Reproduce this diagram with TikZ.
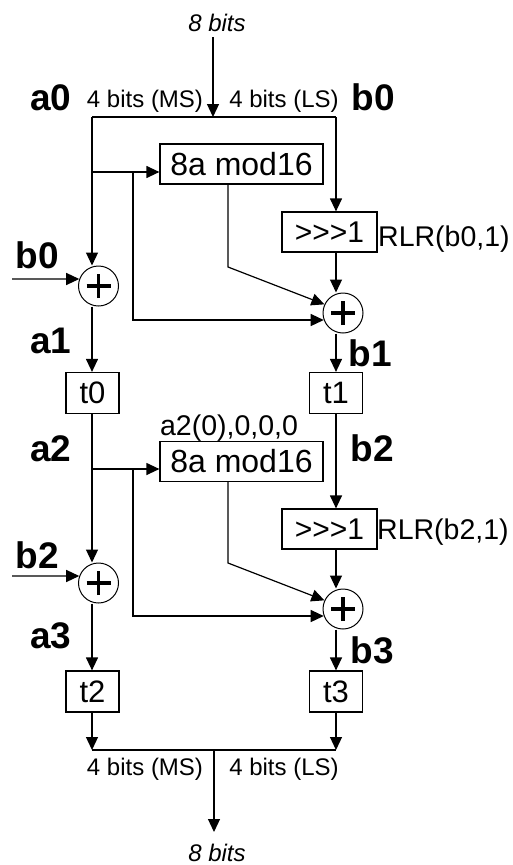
\documentclass[tikz,border=0pt]{standalone}
\usepackage{fontspec}
\setmainfont{Liberation Sans}
\usetikzlibrary{arrows.meta,calc}
\begin{document}
\begin{tikzpicture}[x=1pt,y=-1pt,
  arr/.style={line width=1.2pt,-{Triangle[length=13pt,width=12pt]}},
  wire/.style={line width=1.2pt},
  box/.style={draw,line width=1.2pt,inner sep=0pt,font=\fontsize{32}{36}\selectfont},
  shbox/.style={box,minimum width=95pt,minimum height=40pt,font=\fontsize{30}{34}\selectfont},
  modbox/.style={box,minimum width=163pt,minimum height=40pt},
  tbox/.style={box,minimum width=53pt,minimum height=41pt,font=\fontsize{31}{35}\selectfont},
  pl/.style={draw,circle,line width=1pt,minimum size=40pt,inner sep=0pt,
    path picture={\draw[line width=3.5pt]
      ([xshift=-12pt]path picture bounding box.center) -- ([xshift=12pt]path picture bounding box.center)
      ([yshift=-12pt]path picture bounding box.center) -- ([yshift=12pt]path picture bounding box.center);}},
  big/.style={font=\bfseries\fontsize{37}{40}\selectfont,anchor=base,inner sep=0pt},
  small/.style={font=\fontsize{24}{28}\selectfont,anchor=base,inner sep=0pt},
  ital/.style={font=\itshape\fontsize{24}{28}\selectfont,anchor=base,inner sep=0pt},
  mid/.style={font=\fontsize{28.5}{32}\selectfont,anchor=base,inner sep=0pt}
]
\useasboundingbox[fill=white] (0,0) rectangle (512,865);

% operator nodes
\node[pl] (p1) at (98.5,286) {};
\node[pl] (p2) at (343,313) {};
\node[pl] (p3) at (98.5,583) {};
\node[pl] (p4) at (343,609) {};
\node[modbox] (m1) at (241.5,164) {8a mod16};
\node[modbox] (m2) at (241.5,461.5) {8a mod16};
\node[shbox] (s1) at (329.5,232) {>{}>{}>1};
\node[shbox] (s2) at (329.5,529) {>{}>{}>1};
\node[tbox] (t0) at (92.5,393) {t0};
\node[tbox] (t1) at (336,393) {t1};
\node[tbox] (t2) at (92.5,691.5) {t2};
\node[tbox] (t3) at (336,691.5) {t3};

% labels
\node[ital] (bits1) at (217,31) {8 bits};
\node[small] (ms1) at (145,107) {4 bits (MS)};
\node[small] (ls1) at (284,107) {4 bits (LS)};
\node[big] (la0) at (51,110) {a0};
\node[big] (lb0) at (373,110) {b0};
\node[big] (lb0l) at (37,268) {b0};
\node[big] (la1) at (51,353) {a1};
\node[big] (lb1) at (370,366.5) {b1};
\node[mid,anchor=base west] (r1) at (378,246.5) {RLR(b0,1)};
\node[mid] (a2z) at (229,435) {a2(0),0,0,0};
\node[big] (la2) at (51,461.5) {a2};
\node[big] (lb2) at (372,461.5) {b2};
\node[mid,anchor=base west] (r2) at (377,539) {RLR(b2,1)};
\node[big] (lb2l) at (37,568) {b2};
\node[big] (la3) at (51,648) {a3};
\node[big] (lb3) at (372,663) {b3};
\node[small] (ms2) at (145,775) {4 bits (MS)};
\node[small] (ls2) at (284,775) {4 bits (LS)};
\node[ital] (bits2) at (217,861) {8 bits};

% coordinates
\coordinate (in) at (213,37);
\coordinate (sp) at (213,117);
\coordinate (al) at (92,117);
\coordinate (bl) at (336,117);
\coordinate (f1) at (92,172);
\coordinate (g1) at (133,172);
\coordinate (d1) at (228,267);
\coordinate (i1) at (12,279);
\coordinate (f2) at (92,469);
\coordinate (g2) at (133,469);
\coordinate (d2) at (228,563);
\coordinate (i2) at (12,576);
\coordinate (ol) at (92,750);
\coordinate (or) at (336,750);
\coordinate (os) at (214,750);
\coordinate (out) at (214,832);

% input split
\draw[arr] (in) -- (sp);
\draw[wire] (al) -- (bl);

% round 1
\draw[arr] (al) -- (al |- p1.north);
\draw[arr] (f1) -- (f1 -| m1.west);
\draw[arr] (g1) |- (p2.200);
\draw[arr] (m1.south -| d1) -- (d1) -- (p2.155);
\draw[arr] (bl) -- (bl |- s1.north);
\draw[arr] (bl |- s1.south) -- (bl |- p2.north);
\draw[arr] (i1) -- (p1.160);
\draw[arr] (al |- p1.south) -- (al |- t0.north);
\draw[arr] (bl |- p2.south) -- (bl |- t1.north);

% round 2
\draw[arr] (al |- t0.south) -- (al |- p3.north);
\draw[arr] (f2) -- (f2 -| m2.west);
\draw[arr] (g2) |- (p4.200);
\draw[arr] (m2.south -| d2) -- (d2) -- (p4.155);
\draw[arr] (bl |- t1.south) -- (bl |- s2.north);
\draw[arr] (bl |- s2.south) -- (bl |- p4.north);
\draw[arr] (i2) -- (p3.160);
\draw[arr] (al |- p3.south) -- (al |- t2.north);
\draw[arr] (bl |- p4.south) -- (bl |- t3.north);

% output merge
\draw[arr] (al |- t2.south) -- (ol);
\draw[arr] (bl |- t3.south) -- (or);
\draw[wire] (ol) -- (or);
\draw[arr] (os) -- (out);
\end{tikzpicture}
\end{document}
